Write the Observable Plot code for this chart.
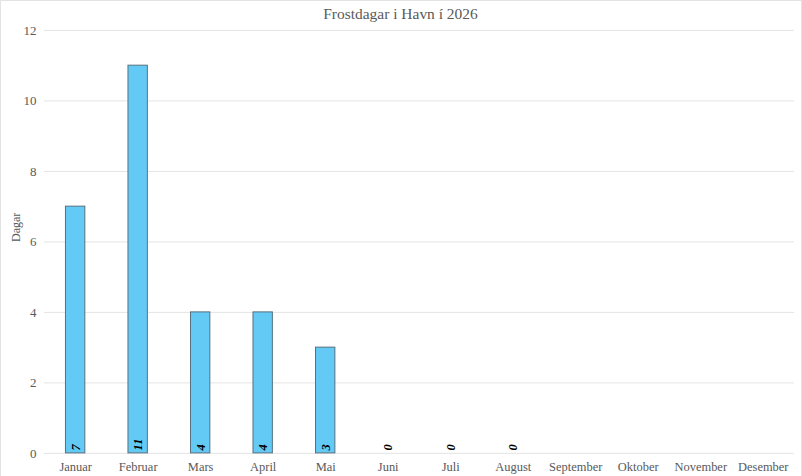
<!DOCTYPE html>
<html>
<head>
<meta charset="utf-8">
<script src="https://cdn.jsdelivr.net/npm/d3@7"></script>
<script src="https://cdn.jsdelivr.net/npm/@observablehq/plot@0.6"></script>
<style>
  html, body { margin: 0; padding: 0; background: #fff; }
  #chart svg { display: block; box-sizing: border-box; border: 1px solid #e3e3e3; }
</style>
</head>
<body>
<div id="chart"></div>
<script>
const months = ["Januar", "Februar", "Mars", "April", "Mai", "Juni", "Juli", "August", "September", "Oktober", "November", "Desember"];
const frostDays = [7, 11, 4, 4, 3, 0, 0, 0, null, null, null, null];
const yTicks = [0, 2, 4, 6, 8, 10, 12];
const titleText = "Frostdagar i Havn í 2026";
const yLabel = "Dagar";

const data = months.map((m, i) => ({month: m, value: frostDays[i]}));
const withValue = data.filter(d => d.value != null);

const chart = Plot.plot({
  width: 802,
  height: 476,
  marginTop: 29,
  marginBottom: 23,
  marginLeft: 43,
  marginRight: 7,
  style: {fontFamily: "'Liberation Serif', 'DejaVu Serif', serif", fontSize: "12.5px", color: "#595959", background: "#fff"},
  x: {domain: months, paddingInner: 0.69, paddingOuter: 0.345, round: false, label: null},
  y: {domain: [0, 12], label: null},
  marks: [
    Plot.gridY(yTicks, {stroke: "#e4e4e4", strokeOpacity: 1}),
    Plot.axisY({ticks: yTicks, tickSize: 0, tickPadding: 8, label: null, fill: "#595959", fontSize: 13}),
    Plot.text([yLabel], {frameAnchor: "left", dx: -28, rotate: -90, text: d => d, fill: "#595959", fontSize: 12}),
    Plot.axisX({tickSize: 0, tickPadding: 9, label: null, fill: "#595959", fontSize: 12.5}),
    Plot.barY(withValue, {x: "month", y: "value", fill: "#63CAF5", stroke: "#56707f", strokeWidth: 1}),
    Plot.text(withValue, {x: "month", y: () => 0, text: d => String(d.value), rotate: -90, textAnchor: "start", dy: -3, fill: "#000", fontWeight: "bold", fontStyle: "italic", fontSize: 12.5}),
    Plot.text([titleText], {frameAnchor: "top", dx: -19, dy: -16, lineAnchor: "middle", text: d => d, fontSize: 15.5, fill: "#595959"})
  ]
});
document.getElementById("chart").append(chart);
</script>
</body>
</html>
